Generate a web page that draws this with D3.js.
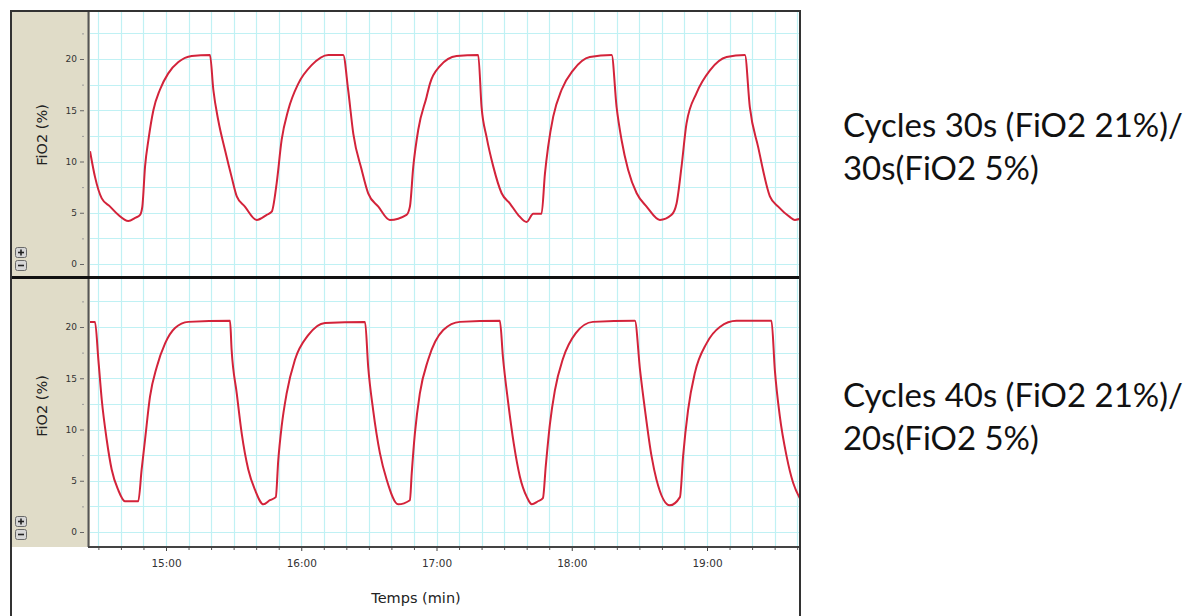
<!DOCTYPE html>
<html><head><meta charset="utf-8">
<script src="https://cdn.jsdelivr.net/npm/d3@7"></script>
<style>body{margin:0;background:#fff;} svg{display:block;}</style>
</head><body><svg id="c" width="1191" height="616"></svg>
<script>
// ---------- data ----------
const xTickSeconds = [900, 960, 1020, 1080, 1140];
const xTickLabels = ["15:00", "16:00", "17:00", "18:00", "19:00"];
const yTickValues = [0, 5, 10, 15, 20];
const xTitle = "Temps (min)";
const yTitle = "FiO2 (%)";
const topNote = ["Cycles 30s (FiO2 21%)/", "30s(FiO2 5%)"];
const bottomNote = ["Cycles 40s (FiO2 21%)/", "20s(FiO2 5%)"];

// [time (s), FiO2 (%)] — cycles 30s / 30s
const topSeries = [
  [866.3,11.0],[868.5,8.5],[871.5,6.4],[875.2,5.6],[878.8,4.8],[883.3,4.2],[886.3,4.5],[888.5,4.8],[889.5,5.6],
  [890.7,9.5],[892.2,12.1],[894.4,15.0],[897.3,17.0],[901.0,18.6],[905.5,19.7],[911.4,20.3],[919.5,20.4],
  [921.0,17.0],[923.2,14.0],[926.2,11.1],[929.1,8.5],[931.4,6.6],[935.0,5.6],[940.2,4.3],[944.7,4.8],[946.9,5.1],
  [949.1,7.9],[951.3,12.1],[954.2,15.0],[958.7,17.6],[964.6,19.4],[972.0,20.4],[978.6,20.4],
  [980.8,17.0],[983.1,12.7],[986.8,9.2],[989.7,6.9],[994.2,5.6],[999.3,4.3],[1006.7,4.8],[1008.2,5.6],
  [1009.7,9.5],[1011.9,13.1],[1015.6,16.3],[1017.1,17.6],[1021.5,19.3],[1028.9,20.3],[1038.5,20.4],
  [1040.0,15.3],[1042.2,12.4],[1045.2,9.5],[1048.9,6.9],[1052.6,5.9],[1056.2,4.8],[1060.0,4.1],[1062.9,4.9],[1066.6,4.9],
  [1068.1,8.8],[1069.5,11.4],[1071.8,14.4],[1075.5,17.0],[1080.6,18.9],[1088.0,20.2],[1097.7,20.4],
  [1099.9,15.3],[1102.1,12.1],[1105.0,9.2],[1108.8,6.9],[1113.2,5.6],[1119.1,4.3],[1124.3,4.8],[1126.5,5.9],
  [1128.7,9.5],[1130.9,13.7],[1135.4,16.7],[1141.3,18.9],[1148.7,20.2],[1156.8,20.4],
  [1159.0,15.3],[1162.7,11.4],[1167.9,6.6],[1171.6,5.6],[1176.7,4.6],[1179.0,4.3],[1181.2,4.4]
];

// [time (s), FiO2 (%)] — cycles 40s / 20s
const bottomSeries = [
  [866.3,20.5],[868.5,20.5],[870.0,16.8],[871.5,12.9],[873.7,9.0],[875.9,6.1],[878.8,4.1],[881.8,3.0],[887.7,3.0],
  [889.2,6.1],[890.7,9.0],[892.9,13.2],[895.9,16.1],[899.6,18.4],[904.0,19.9],[909.9,20.5],[928.4,20.6],
  [929.1,17.8],[931.4,13.5],[933.6,9.6],[936.5,6.1],[939.5,4.1],[943.2,2.7],[946.1,3.1],[948.7,3.4],
  [949.8,7.0],[951.3,10.3],[953.5,13.5],[957.2,16.8],[963.1,19.2],[970.5,20.4],[988.3,20.5],
  [989.7,16.1],[991.9,11.9],[994.9,7.7],[997.9,5.1],[1003.0,2.7],[1008.2,3.1],
  [1009.0,5.7],[1010.4,9.6],[1012.6,13.5],[1016.3,16.8],[1023.0,19.7],[1030.4,20.5],[1048.1,20.6],
  [1049.5,17.0],[1051.7,12.8],[1054.3,8.6],[1057.0,5.4],[1060.1,3.4],[1062.3,2.7],[1065.0,3.0],[1067.2,3.3],
  [1068.5,6.5],[1070.3,10.5],[1072.5,13.8],[1076.1,16.9],[1081.8,19.4],[1089.4,20.5],[1108.0,20.6],
  [1110.3,15.8],[1112.5,11.9],[1115.4,7.4],[1117.6,5.1],[1123.5,2.6],[1128.0,3.4],
  [1129.4,7.4],[1131.6,11.9],[1134.6,15.5],[1139.8,18.4],[1145.7,20.0],[1153.1,20.6],[1168.6,20.6],
  [1170.1,15.8],[1172.3,11.3],[1175.3,7.4],[1178.2,4.8],[1181.2,3.3]
];

// ---------- layout ----------
const svg = d3.select("#c");
const frameL = 11, frameR = 800, frameT = 11;
const plotL = 90, plotR = 799;
const beige = "#e0dcc8";
const gridColor = "#c0f1f4";
const lineColor = "#d3233a";

const x = d3.scaleLinear().domain([900, 1140]).range([166, 707]);

const panels = [
  { top: 12, bottom: 276, y0: 264, y20: 59, data: topSeries, note: topNote, noteBase: 137, titleY: 135, icon: 247 },
  { top: 279, bottom: 546, y0: 532, y20: 327, data: bottomSeries, note: bottomNote, noteBase: 407, titleY: 406, icon: 516 }
];

svg.append("rect").attr("width", 1191).attr("height", 616).attr("fill", "#fff");

panels.forEach((p, i) => {
  const y = d3.scaleLinear().domain([0, 20]).range([p.y0, p.y20]);
  svg.append("rect").attr("x", frameL).attr("y", p.top).attr("width", plotL - frameL).attr("height", p.bottom - p.top + 1).attr("fill", beige);
  svg.append("rect").attr("x", plotL).attr("y", p.top).attr("width", plotR - plotL).attr("height", p.bottom - p.top + 1).attr("fill", "#fff");

  const clipId = "clip" + i;
  svg.append("clipPath").attr("id", clipId).append("rect")
    .attr("x", plotL).attr("y", p.top).attr("width", plotR - plotL).attr("height", p.bottom - p.top + 1);
  const g = svg.append("g").attr("clip-path", `url(#${clipId})`);

  // grid
  g.selectAll(".vg").data(d3.range(870, 1190, 10)).join("line")
    .attr("x1", d => Math.round(x(d)) + 0.5).attr("x2", d => Math.round(x(d)) + 0.5)
    .attr("y1", p.top).attr("y2", p.bottom + 1)
    .attr("stroke", gridColor).attr("stroke-width", 1.2);
  g.selectAll(".hg").data(d3.range(0, 25.1, 2.5)).join("line")
    .attr("y1", d => Math.round(y(d)) + 0.5).attr("y2", d => Math.round(y(d)) + 0.5)
    .attr("x1", plotL).attr("x2", plotR)
    .attr("stroke", gridColor).attr("stroke-width", 1.2);

  // data line
  const line = d3.line().x(d => x(d[0])).y(d => y(d[1])).curve(d3.curveMonotoneX);
  g.append("path").datum(p.data).attr("d", line)
    .attr("fill", "none").attr("stroke", lineColor).attr("stroke-width", 2).attr("stroke-linejoin", "round");

  // y axis (major)
  const ax = svg.append("g").attr("transform", `translate(84,0)`)
    .call(d3.axisLeft(y).tickValues(yTickValues).tickSize(4).tickPadding(3));
  ax.select(".domain").remove();
  ax.selectAll("line").attr("stroke", "#666");
  ax.selectAll("text").attr("font-family", "DejaVu Sans, Verdana, sans-serif").attr("font-size", 9).attr("fill", "#333");
  // y axis (minor)
  const axm = svg.append("g").attr("transform", `translate(84,0)`)
    .call(d3.axisLeft(y).tickValues([2.5, 7.5, 12.5, 17.5, 22.5]).tickSize(2).tickFormat(""));
  axm.select(".domain").remove();
  axm.selectAll("line").attr("stroke", "#999");

  // y title
  svg.append("text").attr("transform", `translate(42,${p.titleY}) rotate(-90)`)
    .attr("text-anchor", "middle").attr("dominant-baseline", "central")
    .attr("font-family", "DejaVu Sans, Verdana, sans-serif").attr("font-size", 14.5).attr("fill", "#222")
    .text(yTitle);

  // +/- icons
  [["+", p.icon], ["−", p.icon + 13]].forEach(([s, yy]) => {
    svg.append("rect").attr("x", 15.5).attr("y", yy + 0.5).attr("width", 11).attr("height", 10).attr("rx", 2)
      .attr("fill", "#d6d6d6").attr("stroke", "#6a6a6a");
    svg.append("line").attr("x1", 18).attr("x2", 24).attr("y1", yy + 5.5).attr("y2", yy + 5.5).attr("stroke", "#222").attr("stroke-width", 1.6);
    if (s === "+") svg.append("line").attr("x1", 21).attr("x2", 21).attr("y1", yy + 2.5).attr("y2", yy + 8.5).attr("stroke", "#222").attr("stroke-width", 1.6);
  });

  // side separator
  svg.append("line").attr("x1", 88.5).attr("x2", 88.5).attr("y1", p.top).attr("y2", p.bottom + 1)
    .attr("stroke", "#555").attr("stroke-width", 2);

  // right notes
  p.note.forEach((t, k) => {
    svg.append("text").attr("class", "note").attr("x", 843).attr("y", p.noteBase + k * 43)
      .attr("font-family", "Lato, 'Open Sans', sans-serif").attr("font-size", 30).attr("fill", "#111")
      .text(t);
  });
});

// fit note font size so first line spans ~340px
const firstNote = svg.select(".note").node();
const w = firstNote.getComputedTextLength();
const fs = 30 * 340 / w;
svg.selectAll(".note").attr("font-size", fs);

// divider between panels
svg.append("line").attr("x1", frameL).attr("x2", frameR).attr("y1", 277.5).attr("y2", 277.5)
  .attr("stroke", "#111").attr("stroke-width", 3);

// x axis
const xa = svg.append("g").attr("transform", "translate(0,547)")
  .call(d3.axisBottom(x).tickValues(xTickSeconds).tickFormat((d, i) => xTickLabels[i]).tickSize(4).tickPadding(9).tickSizeOuter(0));
xa.select(".domain").remove();
xa.selectAll("line").attr("stroke", "#444");
xa.selectAll("text").attr("font-family", "DejaVu Sans, Verdana, sans-serif").attr("font-size", 10.5).attr("fill", "#333");
const xam = svg.append("g").attr("transform", "translate(0,547)")
  .call(d3.axisBottom(x).tickValues(d3.range(870, 1181, 10).filter(v => v % 60 !== 0)).tickSize(3).tickFormat(""));
xam.select(".domain").remove();
xam.selectAll("line").attr("stroke", "#555");
svg.append("line").attr("x1", plotL - 2).attr("x2", frameR).attr("y1", 547).attr("y2", 547).attr("stroke", "#444").attr("stroke-width", 2);

svg.append("text").attr("x", 416).attr("y", 603).attr("text-anchor", "middle")
  .attr("font-family", "DejaVu Sans, Verdana, sans-serif").attr("font-size", 14.5).attr("fill", "#222")
  .text(xTitle);

// outer frame
svg.append("path").attr("d", `M${frameL},616 V${frameT} H${frameR} V616`)
  .attr("fill", "none").attr("stroke", "#333").attr("stroke-width", 2);
</script></body></html>
